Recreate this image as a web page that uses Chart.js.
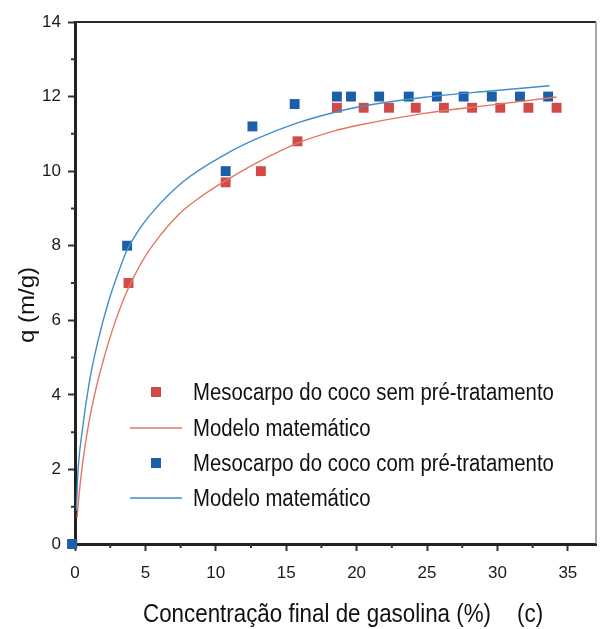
<!DOCTYPE html>
<html>
<head>
<meta charset="utf-8">
<script src="https://cdn.jsdelivr.net/npm/chart.js@4.4.1/dist/chart.umd.min.js"></script>
<style>
  html, body { margin: 0; padding: 0; background: #ffffff; }
  canvas { display: block; }
</style>
</head>
<body>
<canvas id="chart" width="603" height="629"></canvas>
<script>
// Adsorption of gasoline on coconut mesocarp: measured points and fitted model curves
const seriesLabels = [
  'Mesocarpo do coco sem pré-tratamento',
  'Modelo matemático',
  'Mesocarpo do coco com pré-tratamento',
  'Modelo matemático'
];

// measured, without pre-treatment
const semX = [-0.2, 3.8, 10.7, 13.2, 15.8, 18.6, 20.5, 22.3, 24.2, 26.2, 28.2, 30.2, 32.2, 34.2];
const semY = [0, 7.0, 9.7, 10.0, 10.8, 11.7, 11.7, 11.7, 11.7, 11.7, 11.7, 11.7, 11.7, 11.7];

// fitted model, without pre-treatment
const semModelX = [0.15, 0.3, 0.54, 0.89, 1.36, 1.95, 2.65, 3.6, 4.77, 5.59, 7.4, 9.0, 10.68, 13.03, 15.85, 18.43, 20.1, 24.8, 29.5, 34.2];
const semModelY = [0.7, 1.36, 2.16, 3.05, 3.95, 4.84, 5.73, 6.7, 7.58, 8.05, 8.85, 9.33, 9.74, 10.25, 10.76, 11.08, 11.23, 11.55, 11.77, 11.99];

// measured, with pre-treatment
const comX = [-0.2, 3.7, 10.7, 12.6, 15.6, 18.6, 19.6, 21.6, 23.7, 25.7, 27.6, 29.6, 31.6, 33.6];
const comY = [0, 8.0, 10.0, 11.2, 11.8, 12.0, 12.0, 12.0, 12.0, 12.0, 12.0, 12.0, 12.0, 12.0];

// fitted model, with pre-treatment
const comModelX = [0.1, 0.19, 0.54, 1.0, 1.6, 2.42, 3.24, 3.66, 4.41, 5.28, 7.63, 10.68, 12.8, 15.85, 18.67, 20.1, 24.8, 29.5, 33.7];
const comModelY = [0.9, 1.8, 3.1, 4.3, 5.4, 6.55, 7.45, 7.85, 8.35, 8.8, 9.7, 10.45, 10.85, 11.3, 11.6, 11.72, 11.98, 12.15, 12.29];

// axis ticks
const xTicks = [0, 5, 10, 15, 20, 25, 30, 35];
const yTicks = [0, 2, 4, 6, 8, 10, 12, 14];
const xMinorTicks = [2.5, 7.5, 12.5, 17.5, 22.5, 27.5, 32.5];
const yMinorTicks = [1, 3, 5, 7, 9, 11, 13];

const xTitle = 'Concentração final de gasolina (%)';
const panelTag = '(c)';
const yTitle = 'q (m/g)';

const RED = '#d14a48';
const RED_LINE = '#e2785f';
const BLUE = '#1b5fa9';
const BLUE_LINE = '#3f8fca';
const FONT = '"Liberation Sans", Arial, Helvetica, sans-serif';

const pts = (xs, ys) => xs.map((x, i) => ({ x: x, y: ys[i] }));

// squeezed text, like a narrow sans face
function narrowText(ctx, text, x, y, size, sx, align) {
  ctx.save();
  ctx.font = size + 'px ' + FONT;
  ctx.fillStyle = '#111';
  ctx.textBaseline = 'alphabetic';
  ctx.textAlign = align || 'left';
  ctx.translate(x, y);
  ctx.scale(sx, 1);
  ctx.fillText(text, 0, 0);
  ctx.restore();
}

const framePlugin = {
  id: 'frame',
  afterDraw(chart) {
    const ctx = chart.ctx;
    const a = chart.chartArea;
    const xs = chart.scales.x, ys = chart.scales.y;
    ctx.save();
    // top and right frame lines
    ctx.strokeStyle = '#2a2a2a';
    ctx.lineWidth = 2;
    ctx.beginPath();
    ctx.moveTo(a.left, a.top);
    ctx.lineTo(a.right, a.top);
    ctx.stroke();
    ctx.strokeStyle = '#8a8a8a';
    ctx.lineWidth = 1.5;
    ctx.beginPath();
    ctx.moveTo(a.right, a.top);
    ctx.lineTo(a.right, a.bottom);
    ctx.stroke();
    // minor ticks
    ctx.strokeStyle = '#333';
    ctx.lineWidth = 2;
    ctx.beginPath();
    xMinorTicks.forEach(v => {
      const px = xs.getPixelForValue(v);
      ctx.moveTo(px, a.bottom);
      ctx.lineTo(px, a.bottom + 4);
    });
    yMinorTicks.forEach(v => {
      const py = ys.getPixelForValue(v);
      ctx.moveTo(a.left, py);
      ctx.lineTo(a.left - 4, py);
    });
    ctx.stroke();
    ctx.restore();

    // axis titles
    narrowText(ctx, xTitle, 143, 622, 26, 0.86, 'left');
    narrowText(ctx, panelTag, 517, 622, 26, 0.86, 'left');
    ctx.save();
    ctx.font = '24px ' + FONT;
    ctx.fillStyle = '#111';
    ctx.textAlign = 'center';
    ctx.textBaseline = 'alphabetic';
    ctx.translate(33.5, 305);
    ctx.rotate(-Math.PI / 2);
    ctx.scale(1, 0.93);
    ctx.fillText(yTitle, 0, 0);
    ctx.restore();

    // legend
    const rows = [
      { ds: 0, cy: 392 },
      { ds: 1, cy: 428 },
      { ds: 2, cy: 463 },
      { ds: 3, cy: 498 }
    ];
    rows.forEach(r => {
      const d = chart.data.datasets[r.ds];
      ctx.save();
      if (d.showLine) {
        ctx.strokeStyle = d.borderColor;
        ctx.lineWidth = 1.4;
        ctx.beginPath();
        ctx.moveTo(130, r.cy);
        ctx.lineTo(182, r.cy);
        ctx.stroke();
      } else {
        ctx.fillStyle = d.backgroundColor;
        ctx.fillRect(151, r.cy - 5, 10, 10);
      }
      ctx.restore();
      narrowText(ctx, d.label, 193, r.cy + 8, 23, 0.885, 'left');
    });
  }
};

new Chart(document.getElementById('chart'), {
  type: 'scatter',
  data: {
    datasets: [
      {
        label: seriesLabels[0],
        data: pts(semX, semY),
        backgroundColor: RED,
        borderColor: RED,
        pointStyle: 'rect',
        pointRadius: 7,
        pointBorderWidth: 0,
        clip: false,
        order: 4
      },
      {
        label: seriesLabels[1],
        data: pts(semModelX, semModelY),
        showLine: true,
        borderColor: RED_LINE,
        backgroundColor: RED_LINE,
        borderWidth: 1.4,
        pointRadius: 0,
        cubicInterpolationMode: 'monotone',
        order: 2
      },
      {
        label: seriesLabels[2],
        data: pts(comX, comY),
        backgroundColor: BLUE,
        borderColor: BLUE,
        pointStyle: 'rect',
        pointRadius: 7,
        pointBorderWidth: 0,
        clip: false,
        order: 3
      },
      {
        label: seriesLabels[3],
        data: pts(comModelX, comModelY),
        showLine: true,
        borderColor: BLUE_LINE,
        backgroundColor: BLUE_LINE,
        borderWidth: 1.4,
        pointRadius: 0,
        cubicInterpolationMode: 'monotone',
        order: 1
      }
    ]
  },
  options: {
    responsive: false,
    animation: false,
    devicePixelRatio: 1,
    layout: { padding: { top: 22, right: 2, left: 0, bottom: 0 } },
    plugins: {
      legend: { display: false },
      tooltip: { enabled: false }
    },
    scales: {
      x: {
        type: 'linear',
        min: 0,
        max: 37,
        afterFit: s => { s.height = 85; },
        afterBuildTicks: s => { s.ticks = xTicks.map(v => ({ value: v })); },
        ticks: {
          includeBounds: false,
          padding: 12,
          color: '#1a1a1a',
          font: { family: FONT, size: 17 },
          maxRotation: 0
        },
        grid: {
          drawOnChartArea: false,
          drawTicks: true,
          tickLength: 7,
          tickWidth: 2,
          tickColor: '#333'
        },
        border: { display: true, color: '#222', width: 3 }
      },
      y: {
        type: 'linear',
        min: 0,
        max: 14,
        afterFit: s => { s.width = 75; },
        afterBuildTicks: s => { s.ticks = yTicks.map(v => ({ value: v })); },
        ticks: {
          includeBounds: false,
          padding: 7,
          color: '#1a1a1a',
          font: { family: FONT, size: 17 }
        },
        grid: {
          drawOnChartArea: false,
          drawTicks: true,
          tickLength: 7,
          tickWidth: 2,
          tickColor: '#333'
        },
        border: { display: true, color: '#222', width: 3 }
      }
    }
  },
  plugins: [framePlugin]
});
</script>
</body>
</html>
